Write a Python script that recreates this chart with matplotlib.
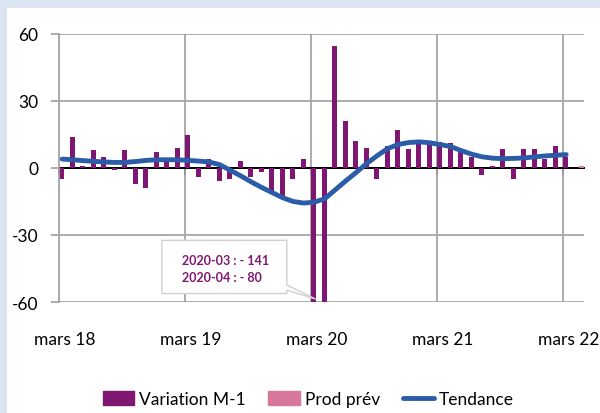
import numpy as np
import matplotlib
matplotlib.use("Agg")
import matplotlib.pyplot as plt
from matplotlib.patches import Polygon, Rectangle, Patch
from matplotlib.lines import Line2D
from matplotlib.ticker import NullLocator

plt.rcParams['font.family'] = ['Lato', 'DejaVu Sans']
plt.rcParams['axes.unicode_minus'] = False

# monthly change, mars 18 .. mars 22
variation = [-5, 14, 1, 8, 5, -1, 8, -7, -9, 7, 4, 9,
             15, -4, 4, -6, -5, 3, -4, -2, -11, -14, -5, 4,
             -141, -80, 54.5, 21, 12, 9, -5, 10, 17, 8.5, 11, 11,
             11.5, 11, 8.5, 5, -3, 1, 8.5, -5, 8.5, 8.5, 4, 10,
             5]
prod_prev = [1]  # avr 22
tendance = [4.0, 3.7, 3.3, 3.0, 2.7, 2.5, 2.5, 2.9, 3.4, 3.7, 3.7, 3.7,
            3.4, 3.1, 2.7, 1.5, -1.0, -3.5, -6.2, -8.7, -11, -13.3, -15, -15.7,
            -15.3, -13.8, -9.8, -5.8, -2, 2, 5.5, 8.7, 10.5, 11.4, 11.7, 11.3,
            10.5, 9.6, 7.8, 6.2, 5.0, 4.4, 4.2, 4.3, 4.5, 5.0, 5.4, 5.7,
            6.0]
tick_labels = ["mars 18", "mars 19", "mars 20", "mars 21", "mars 22"]
annot_lines = ["2020-03 : - 141", "2020-04 : - 80"]

months = np.arange(len(variation))
prev_months = np.arange(len(variation), len(variation) + len(prod_prev))
year_ticks = np.arange(0, len(variation), 12)

purple = '#7f1672'
pink = '#d6779b'
blue = '#2a5ca8'
grid = '#a6a6a6'

fig = plt.figure(figsize=(6, 4.14), dpi=100, facecolor='#dbe5f1')
fig.patches.append(Rectangle((7 / 600, 0), 1, 1 - 8.5 / 414, transform=fig.transFigure,
                             facecolor='white', edgecolor='none', zorder=-1))
ax = fig.add_axes([59 / 600, 1 - 303 / 414, 525 / 600, 268 / 414])
ax.set_facecolor('none')

ax.axhline(0, color='black', lw=1.4, zorder=1.5)
ax.bar(months, variation, width=0.5, align='edge', color=purple, zorder=2)
ax.bar(prev_months + 0.5, prod_prev, width=0.5, align='edge', color=pink, zorder=2)
ax.plot(months + 0.3, tendance, color=blue, lw=3.5, solid_capstyle='round',
        solid_joinstyle='round', zorder=3)

ax.set_xlim(0, 50)
ax.set_ylim(-60, 60)
ax.set_yticks([-60, -30, 0, 30, 60])
ax.set_xticks(year_ticks)
ax.set_xticklabels([])
ax.set_xticks(year_ticks + 0.5, minor=True)
ax.set_xticklabels(tick_labels, minor=True)
ax.grid(True, which='major', color=grid, lw=1.3)
ax.set_axisbelow(True)
for s in ['top', 'right', 'bottom']:
    ax.spines[s].set_visible(False)
ax.spines['left'].set_color(grid)
ax.spines['left'].set_linewidth(1.3)
ax.tick_params(axis='y', length=6, width=1.3, color=grid, pad=9, labelsize=12.5)
ax.tick_params(axis='x', which='both', length=0, pad=21, labelsize=12.5)

# tick marks on the zero axis
sec = ax.secondary_xaxis(0.5)
sec.set_xticks(year_ticks)
sec.set_xticklabels([])
sec.xaxis.set_minor_locator(NullLocator())
sec.xaxis.set_ticks_position('bottom')
sec.tick_params(length=5, width=1.3, color='black', direction='out',
                labelbottom=False, labeltop=False)
for s in sec.spines.values():
    s.set_color('black')
    s.set_linewidth(1.4)

# callout box
callout = Polygon([(9.8, -32.4), (21.7, -32.4), (21.7, -52.4), (24.45, -58.7),
                   (21.7, -54.7), (21.7, -56.2), (9.8, -56.2)],
                  closed=True, facecolor='white', edgecolor='#d0d0d0', lw=1, zorder=4)
ax.add_patch(callout)
ax.text(11.7, -41.3, annot_lines[0], color=purple, fontweight='bold', fontsize=9,
        va='center', ha='left', zorder=5)
ax.text(11.7, -49.0, annot_lines[1], color=purple, fontweight='bold', fontsize=9,
        va='center', ha='left', zorder=5)

handles = [Patch(color=purple), Patch(color=pink),
           Line2D([], [], color=blue, lw=3.5, solid_capstyle='round')]
fig.legend(handles, ["Variation M-1", "Prod prév", "Tendance"], loc='center',
           bbox_to_anchor=(0.514, 1 - 400 / 414), ncol=3, frameon=False, fontsize=12.5,
           handlelength=1.8, handleheight=0.8, handletextpad=0.3, columnspacing=1.3)

fig.savefig('out.png', dpi=100, facecolor=fig.get_facecolor())
